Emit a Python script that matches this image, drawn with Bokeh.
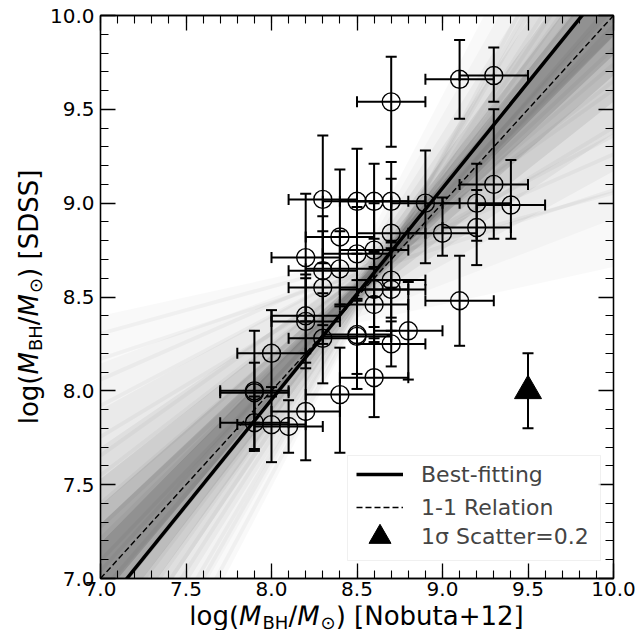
import math
from bokeh.plotting import figure
from bokeh.layouts import row, column
from bokeh.core.properties import value
from bokeh.models import (ColumnDataSource, Whisker, TeeHead, Legend, LegendItem,
                          SingleIntervalTicker, LinearAxis, PrintfTickFormatter,
                          CustomJSTickFormatter, Range1d, BoxAnnotation)
from bokeh.embed import file_html
from bokeh.resources import INLINE

# ---------------- data ----------------
x_nobuta = [9.1, 9.3, 8.7, 8.3, 8.5, 8.6, 8.7, 8.9, 9.2, 9.3, 9.4, 9.2, 9.0, 8.7,
            8.4, 8.2, 8.5, 8.6, 8.3, 8.4, 8.7, 8.7, 8.6, 8.3, 8.6, 8.2, 8.2, 8.3,
            8.5, 8.5, 8.8, 8.7, 9.1, 8.0, 8.6, 7.9, 7.9, 8.4, 8.2, 7.9, 8.0, 8.1]
y_sdss = [9.66, 9.68, 9.54, 9.02, 9.01, 9.01, 9.01, 9.00, 9.00, 9.10, 8.99, 8.87,
          8.84, 8.84, 8.82, 8.71, 8.73, 8.75, 8.64, 8.65, 8.59, 8.54, 8.54, 8.55,
          8.46, 8.40, 8.37, 8.28, 8.30, 8.29, 8.32, 8.25, 8.48, 8.20, 8.07, 8.00,
          7.99, 7.98, 7.89, 7.83, 7.82, 7.81]
y_err_lo = [0.21, 0.14, 0.24, 0.34, 0.28, 0.20, 0.21, 0.32, 0.20, 0.29, 0.18, 0.20,
            0.12, 0.29, 0.36, 0.34, 0.25, 0.25, 0.29, 0.20, 0.20, 0.22, 0.20, 0.30,
            0.20, 0.20, 0.25, 0.24, 0.29, 0.20, 0.26, 0.12, 0.24, 0.23, 0.21, 0.32,
            0.16, 0.31, 0.26, 0.14, 0.20, 0.14]
y_err_hi = [0.21, 0.15, 0.24, 0.34, 0.28, 0.20, 0.21, 0.28, 0.21, 0.40, 0.24, 0.20,
            0.19, 0.29, 0.36, 0.34, 0.25, 0.25, 0.29, 0.20, 0.20, 0.22, 0.20, 0.30,
            0.20, 0.20, 0.25, 0.24, 0.29, 0.20, 0.26, 0.12, 0.24, 0.23, 0.21, 0.32,
            0.16, 0.25, 0.26, 0.14, 0.20, 0.14]
x_err = [0.2] * len(x_nobuta)

scatter_x = [9.5]
scatter_y = [8.0]
scatter_sigma = 0.2

fit_slope = 1.127
fit_intercept = -1.063

# posterior fan of fits: nested envelopes (slope range, value range at x = 8.5)
fan_pivot_x = 8.5
fan_slope_lo = [0.20, 0.35, 0.50, 0.62, 0.72, 0.80, 0.86, 0.92]
fan_slope_hi = [1.75, 1.60, 1.45, 1.34, 1.25, 1.18, 1.13, 1.08]
fan_pivot_lo = [8.36, 8.39, 8.42, 8.44, 8.46, 8.48, 8.50, 8.51]
fan_pivot_hi = [8.70, 8.67, 8.65, 8.63, 8.61, 8.59, 8.58, 8.57]
fan_alpha = [0.025, 0.025, 0.035, 0.045, 0.07, 0.09, 0.11, 0.13]
# individual posterior draws (slope, value at x = 8.5) for streak texture
streak_slopes = [0.30, 0.55, 0.70, 0.85, 0.95, 1.05, 1.20, 1.35, 1.55, 0.40,
                 0.65, 1.60, 0.25, 0.48, 0.78, 1.00, 1.28, 1.42, 1.70, 0.90]
streak_pivots = [8.62, 8.58, 8.60, 8.55, 8.52, 8.50, 8.49, 8.47, 8.45, 8.66,
                 8.63, 8.44, 8.68, 8.64, 8.57, 8.54, 8.48, 8.46, 8.40, 8.56]

x_min, x_max = 7.0, 10.0
y_min, y_max = 7.0, 10.0
tick_interval = 0.5

FONT = "DejaVu Sans"

# ---------------- main figure ----------------
p = figure(frame_width=513, frame_height=563,
           x_range=Range1d(x_min, x_max), y_range=Range1d(y_min, y_max),
           output_backend="svg", toolbar_location=None,
           min_border_left=51, min_border_right=24, min_border_top=15, min_border_bottom=27)
p.xgrid.visible = False
p.ygrid.visible = False
p.outline_line_color = "black"
p.outline_line_width = 1.3
p.background_fill_color = "white"
p.border_fill_color = "white"


def style_axis(ax, labels=True):
    ax.ticker = SingleIntervalTicker(interval=tick_interval, num_minor_ticks=5)
    if labels:
        ax.formatter = PrintfTickFormatter(format="%.1f")
    else:
        ax.formatter = CustomJSTickFormatter(code="return ''")
    ax.axis_label = None
    ax.major_tick_in = 15
    ax.major_tick_out = 0
    ax.minor_tick_in = 8
    ax.minor_tick_out = 0
    ax.major_tick_line_width = 1.3
    ax.minor_tick_line_width = 1.1
    ax.major_tick_line_color = "black"
    ax.minor_tick_line_color = "black"
    ax.axis_line_color = "black"
    ax.axis_line_width = 1.3
    ax.major_label_text_font = FONT
    ax.major_label_text_font_size = "20px"
    ax.major_label_text_color = "black"


style_axis(p.xaxis[0])
style_axis(p.yaxis[0])
p.xaxis[0].major_label_standoff = 3
p.yaxis[0].major_label_standoff = 6

top_ax = LinearAxis()
right_ax = LinearAxis()
style_axis(top_ax, labels=False)
style_axis(right_ax, labels=False)
p.add_layout(top_ax, "above")
p.add_layout(right_ax, "right")

# ---------------- fan of fits ----------------
fan_x = [x_min, fan_pivot_x, x_max]
for s_lo, s_hi, pv_lo, pv_hi, a in zip(fan_slope_lo, fan_slope_hi, fan_pivot_lo,
                                         fan_pivot_hi, fan_alpha):
    lower = [pv_lo + s_hi * (x_min - fan_pivot_x), pv_lo, pv_lo + s_lo * (x_max - fan_pivot_x)]
    upper = [pv_hi + s_lo * (x_min - fan_pivot_x), pv_hi, pv_hi + s_hi * (x_max - fan_pivot_x)]
    p.varea(x=fan_x, y1=lower, y2=upper, fill_color="black", fill_alpha=a)

streak_xs = [[x_min, x_max] for _ in streak_slopes]
streak_ys = [[pv + s * (x_min - fan_pivot_x), pv + s * (x_max - fan_pivot_x)]
             for s, pv in zip(streak_slopes, streak_pivots)]
p.multi_line(streak_xs, streak_ys, line_color="black", line_alpha=0.035, line_width=4)

# lines
one_r = p.line([x_min, x_max], [x_min, x_max], line_color="black", line_width=1.4,
               line_dash="6 3")
fit_r = p.line([x_min, x_max],
               [fit_intercept + fit_slope * x_min, fit_intercept + fit_slope * x_max],
               line_color="black", line_width=3.5)

# ---------------- data with error bars ----------------
src = ColumnDataSource(dict(
    x=x_nobuta, y=y_sdss,
    xl=[a - e for a, e in zip(x_nobuta, x_err)],
    xu=[a + e for a, e in zip(x_nobuta, x_err)],
    yl=[a - e for a, e in zip(y_sdss, y_err_lo)],
    yu=[a + e for a, e in zip(y_sdss, y_err_hi)],
))


def head():
    return TeeHead(size=11, line_width=2, line_color="black")


p.add_layout(Whisker(source=src, base="x", lower="yl", upper="yu", dimension="height",
                     line_width=2, line_color="black", upper_head=head(), lower_head=head(),
                     level="glyph"))
p.add_layout(Whisker(source=src, base="y", lower="xl", upper="xu", dimension="width",
                     line_width=2, line_color="black", upper_head=head(), lower_head=head(),
                     level="glyph"))
p.scatter("x", "y", source=src, marker="circle", size=18, fill_color=None,
          line_color="black", line_width=1.4)

# scatter indicator
src2 = ColumnDataSource(dict(x=scatter_x, y=scatter_y,
                             yl=[v - scatter_sigma for v in scatter_y],
                             yu=[v + scatter_sigma for v in scatter_y]))
p.add_layout(Whisker(source=src2, base="x", lower="yl", upper="yu", dimension="height",
                     line_width=2, line_color="black", upper_head=head(), lower_head=head(),
                     level="glyph"))
tri_r = p.scatter("x", "y", source=src2, marker="triangle", size=27, color="black")

# ---------------- legend ----------------
p.add_layout(BoxAnnotation(left=247, right=500, bottom=18, top=123,
                           left_units="screen", right_units="screen",
                           bottom_units="screen", top_units="screen",
                           fill_color="white", fill_alpha=0.8,
                           line_color="#cccccc", line_width=1, level="annotation"))

leg1 = Legend(items=[LegendItem(label="Best-fitting", renderers=[fit_r]),
                     LegendItem(label="1-1 Relation", renderers=[one_r])],
              location=(256, 58), padding=0, spacing=7, margin=0,
              glyph_width=47, glyph_height=26, label_height=26, label_standoff=18,
              label_text_font=FONT, label_text_font_size="22px",
              background_fill_alpha=0, border_line_alpha=0)
leg2 = Legend(items=[LegendItem(label="1σ Scatter=0.2", renderers=[tri_r])],
              location=(252, 14), padding=0, spacing=0, margin=0,
              glyph_width=55, glyph_height=55, label_height=26, label_standoff=14,
              label_text_font=FONT, label_text_font_size="22px",
              background_fill_alpha=0, border_line_alpha=0)
p.add_layout(leg1)
p.add_layout(leg2)

# ---------------- axis-label strips (text with sub-scripts) ----------------
EM = {"l": 0.278, "o": 0.612, "g": 0.635, "(": 0.390, ")": 0.390, "M": 0.863,
      "B": 0.686, "H": 0.752, "/": 0.337, " ": 0.318, "[": 0.390, "]": 0.390,
      "N": 0.748, "u": 0.634, "b": 0.635, "t": 0.392, "a": 0.613, "+": 0.838,
      "1": 0.636, "2": 0.636, "S": 0.635, "D": 0.770, "⊙": 0.838}
LABEL_FS = 26
SUB_FS = 18
SUB_DROP = 4
BASE_SHIFT = 0.35          # rendered baseline sits this many em below the anchor

PAGE_W = 634
PAGE_H = 630
YLAB_W = 46
FRAME_TOP, FRAME_BOTTOM = 15, 578
MAIN_H = 15 + 563 + 27
XLAB_H = PAGE_H - MAIN_H


def text_w(s, fs):
    return sum(EM.get(c, 0.6) for c in s) * fs


def label_pieces(tail):
    return [("log(", "normal", LABEL_FS, False), ("M", "italic", LABEL_FS, False),
            ("BH", "normal", SUB_FS, True), ("/", "normal", LABEL_FS, False),
            ("M", "italic", LABEL_FS, False), ("⊙", "normal", SUB_FS, True),
            (tail, "normal", LABEL_FS, False)]


def strip(w, h, xr, yr):
    f = figure(width=w, height=h, x_range=Range1d(*xr), y_range=Range1d(*yr),
               output_backend="svg", toolbar_location=None, title=None,
               x_axis_location=None, y_axis_location=None,
               min_border=0, min_border_left=0, min_border_right=0,
               min_border_top=0, min_border_bottom=0)
    f.outline_line_color = None
    f.xgrid.visible = False
    f.ygrid.visible = False
    f.background_fill_color = "white"
    f.border_fill_color = "white"
    return f


def piece_width(t, st, fs):
    return text_w(t, fs) + (1 if st == "italic" else 0)


def anchor_offset(fs, sub):
    # distance (px, toward text-down) from wanted baseline to the anchor to give
    return (SUB_DROP if sub else 0) - BASE_SHIFT * fs


# x label strip: page x 0..PAGE_W, page y MAIN_H..PAGE_H ; data y = PAGE_H - page_y
xlab = strip(PAGE_W, XLAB_H, (0, PAGE_W), (0, XLAB_H))
pieces = label_pieces(") [Nobuta+12]")
total = sum(piece_width(t, st, fs) for t, st, fs, _ in pieces)
pos = 356 - total / 2
x_baseline = 624.5
for t, st, fs, sub in pieces:
    xlab.text(x=[pos], y=[PAGE_H - (x_baseline + anchor_offset(fs, sub))], text=[t],
              text_font=value(FONT), text_font_size=value(f"{fs}px"), text_font_style=st,
              text_align="left", text_baseline="alphabetic", text_color="black")
    pos += piece_width(t, st, fs)

# y label strip: its frame is aligned with the main frame; data y = -page_y
ylab = strip(YLAB_W, MAIN_H, (0, YLAB_W), (-FRAME_BOTTOM, -FRAME_TOP))
pieces = label_pieces(") [SDSS]")
total = sum(piece_width(t, st, fs) for t, st, fs, _ in pieces)
pos = -296.5 - total / 2
y_baseline = 37.5
for t, st, fs, sub in pieces:
    ylab.text(x=[y_baseline + anchor_offset(fs, sub)], y=[pos], text=[t], angle=math.pi / 2,
              text_font=value(FONT), text_font_size=value(f"{fs}px"), text_font_style=st,
              text_align="left", text_baseline="alphabetic", text_color="black")
    pos += piece_width(t, st, fs)

layout = column(row(ylab, p), xlab)
open("out.html", "w").write(file_html(layout, INLINE))
